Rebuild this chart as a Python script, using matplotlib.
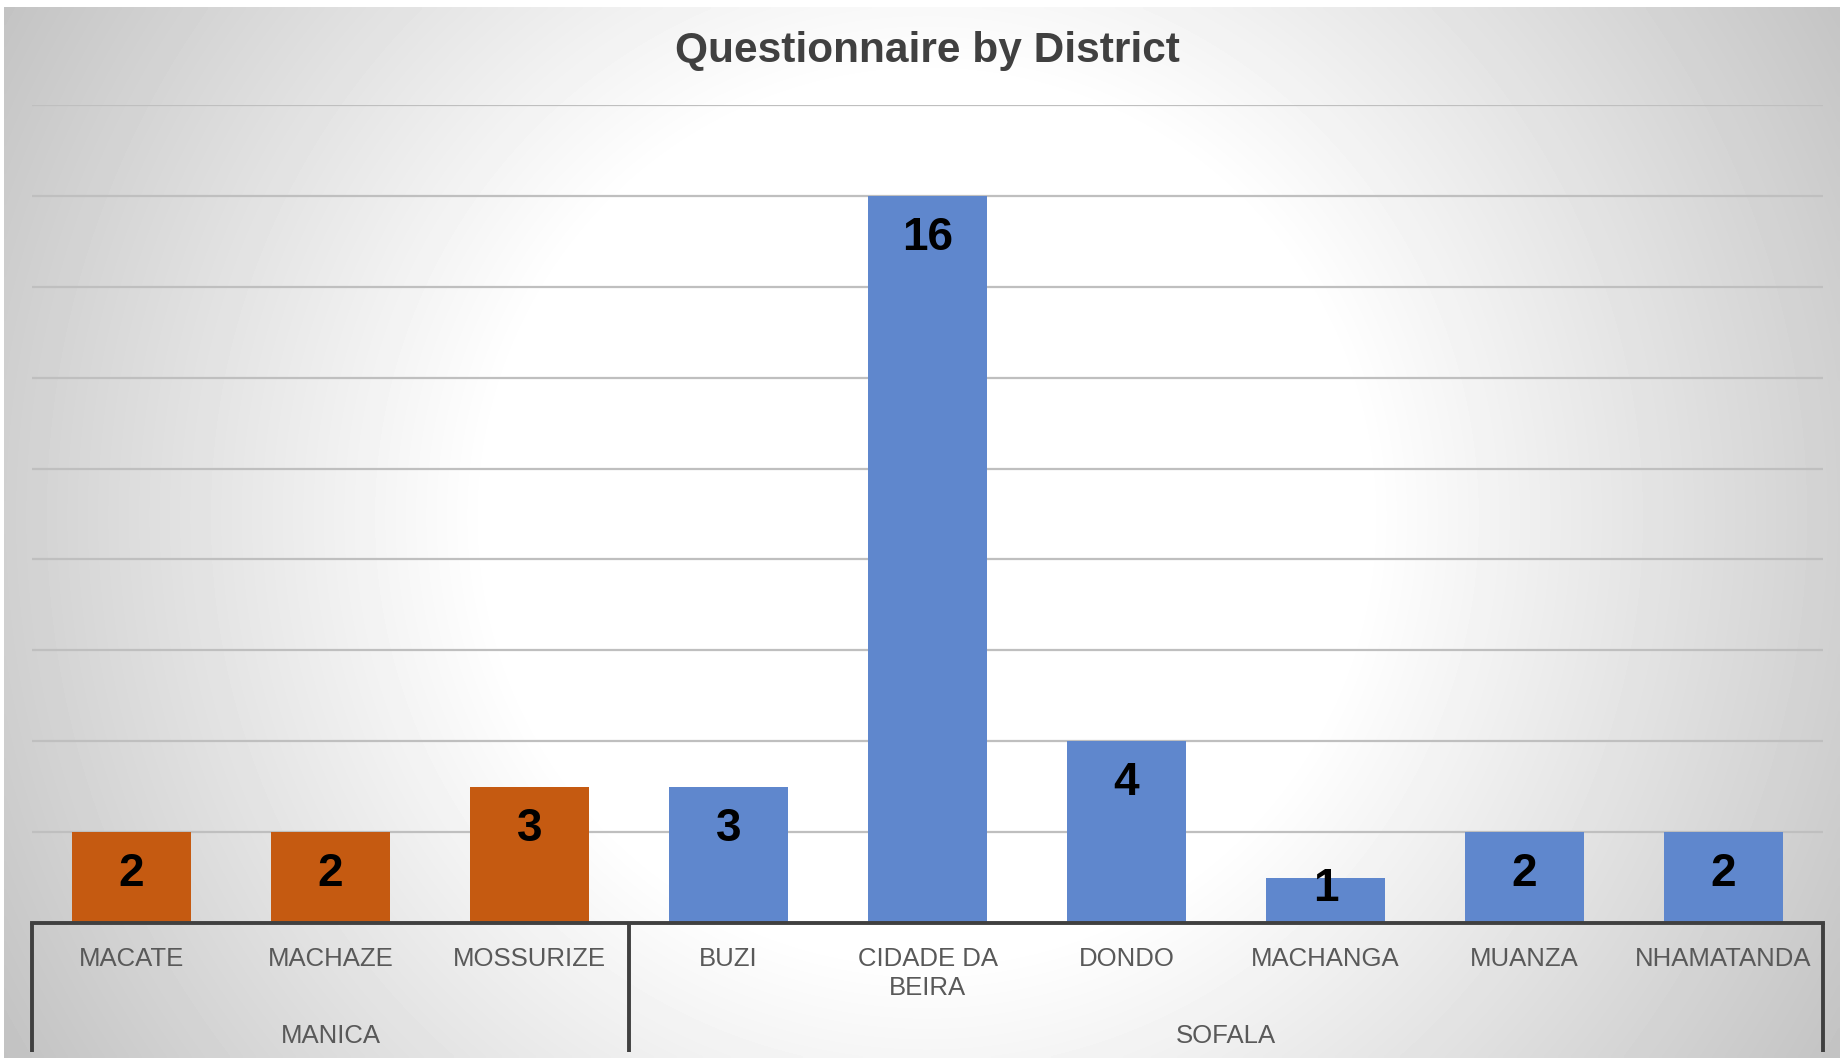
import numpy as np
import matplotlib.pyplot as plt
import matplotlib.transforms as mtransforms

plt.rcParams['font.family'] = ['Liberation Sans', 'DejaVu Sans']

# data
districts = ['MACATE', 'MACHAZE', 'MOSSURIZE', 'BUZI', 'CIDADE DA\nBEIRA',
             'DONDO', 'MACHANGA', 'MUANZA', 'NHAMATANDA']
provinces = ['MANICA', 'MANICA', 'MANICA', 'SOFALA', 'SOFALA',
             'SOFALA', 'SOFALA', 'SOFALA', 'SOFALA']
counts = [2, 2, 3, 3, 16, 4, 1, 2, 2]
province_colors = {'MANICA': '#C55A11', 'SOFALA': '#5F87CD'}

W, H = 1841, 1058
fig = plt.figure(figsize=(W / 100, H / 100), dpi=100)

# radial grey background of the chart area (pixel based, white centre)
bg = fig.add_axes([4 / W, 0, 1 - 5 / W, 1 - 7 / H])
bg.set_axis_off()
py, px = np.mgrid[7:1058:4, 4:1841:4]
d = np.hypot(px - 927, py - 516)
shade = 1.0 - 0.00038 * np.clip(d - 440, 0, None)
bg.imshow(shade, cmap='gray', vmin=0, vmax=1, aspect='auto',
          extent=[0, 1, 0, 1], interpolation='bilinear')
bg.set_xlim(0, 1)
bg.set_ylim(0, 1)

x0, x1 = 32 / W, 1823 / W
base = 1 - 923 / H
top = 1 - 105 / H
ax = fig.add_axes([x0, base, x1 - x0, top - base])
ax.patch.set_alpha(0)
for s in ['top', 'right', 'left']:
    ax.spines[s].set_visible(False)
ax.spines['bottom'].set_color('#404040')
ax.spines['bottom'].set_linewidth(2.8)

x = np.arange(len(districts))
colors = [province_colors[p] for p in provinces]
bars = ax.bar(x, counts, width=0.6, color=colors, edgecolor='none', zorder=2)

ax.set_xlim(-0.5, len(districts) - 0.5)
ax.set_ylim(0, 18)
ax.set_yticks(np.arange(2, 19, 2))
ax.yaxis.grid(True, color='#bfbfbf', linewidth=1.6, zorder=0)
ax.set_axisbelow(True)
ax.tick_params(axis='y', left=False, labelleft=False)
ax.set_xticks(x)
ax.set_xticklabels(districts, fontsize=18.5, color='#595959', linespacing=1.3)
ax.tick_params(axis='x', length=0, pad=17)

# value labels
for xi, v in zip(x, counts):
    ly = v - 0.93 if v > 1 else v - 0.25
    ax.text(xi, ly, str(v), ha='center', va='center', fontsize=33,
            fontweight='bold', color='black', zorder=3)

# province grouping lines and labels
trans = mtransforms.blended_transform_factory(ax.transData, fig.transFigure)
y_top, y_bot = base, 1 - 1052 / H
for xb in [-0.5, 2.5, len(districts) - 0.5]:
    ax.plot([xb, xb], [y_top, y_bot], color='#404040', lw=2.8,
            transform=trans, clip_on=False, solid_capstyle='butt')

groups = []
for p in provinces:
    if p not in groups:
        groups.append(p)
for g in groups:
    idx = [i for i, p in enumerate(provinces) if p == g]
    ax.text(np.mean(idx), 1 - 1036 / H, g, transform=trans, ha='center',
            va='center', fontsize=18.5, color='#595959')

fig.text(0.5035, 1 - 51 / H, 'Questionnaire by District', ha='center',
         va='center', fontsize=30.5, fontweight='bold', color='#404040')

fig.savefig('out.png', dpi=100)
